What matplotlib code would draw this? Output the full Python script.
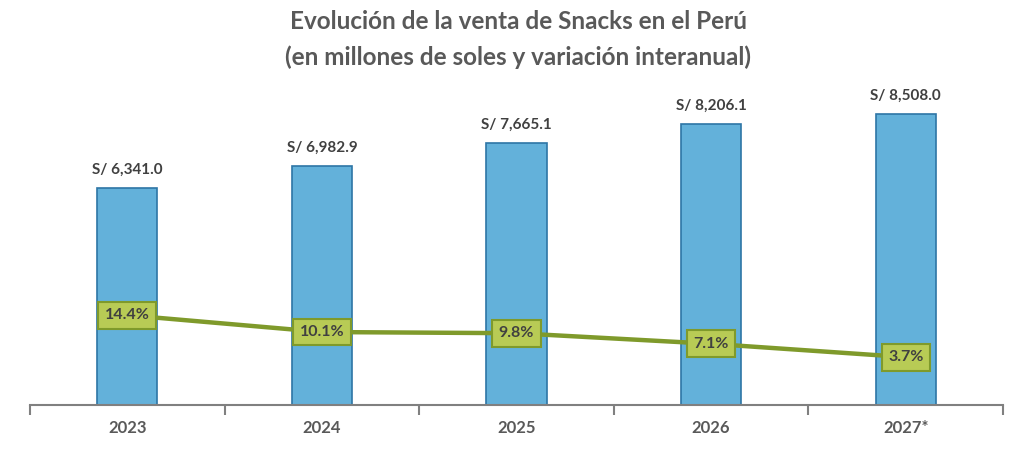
import matplotlib
matplotlib.use("Agg")
import matplotlib.pyplot as plt
import numpy as np

# data
years = ["2023", "2024", "2025", "2026", "2027*"]
sales = [6341.0, 6982.9, 7665.1, 8206.1, 8508.0]
growth = [14.4, 10.1, 9.8, 7.1, 3.7]

BAR_FILL = "#63B1DA"
BAR_EDGE = "#2E75A6"
LINE_COLOR = "#7F9A2B"
BOX_FILL = "#B8CB55"
TEXT_DARK = "#404040"
TEXT_GRAY = "#595959"
AXIS_GRAY = "#808080"

plt.rcParams["font.family"] = ["Lato", "DejaVu Sans"]

fig = plt.figure(figsize=(10.24, 4.5), dpi=100)
ax = fig.add_axes([30 / 1024, 45 / 450, 973 / 1024, 308 / 450])

x = np.arange(len(years))
ax.bar(x, sales, width=0.31, color=BAR_FILL, edgecolor=BAR_EDGE,
       linewidth=1.2, zorder=2)

for xi, v in zip(x, sales):
    ax.annotate(f"S/ {v:,.1f}", (xi, v), xytext=(0, 8), textcoords="offset points",
                ha="center", va="bottom", fontsize=11, fontweight="bold",
                color=TEXT_DARK)

ax.set_xlim(-0.5, len(years) - 0.5)
ax.set_ylim(0, 9000)
ax.set_yticks([])
for s in ["top", "right", "left"]:
    ax.spines[s].set_visible(False)
ax.spines["bottom"].set_color(AXIS_GRAY)
ax.spines["bottom"].set_linewidth(1.5)

# boundary ticks + centered labels
ax.set_xticks(np.arange(-0.5, len(years)), labels=[""] * (len(years) + 1))
ax.tick_params(axis="x", which="major", length=7, width=1.5, color=AXIS_GRAY)
ax.set_xticks(x, labels=years, minor=True)
ax.tick_params(axis="x", which="minor", length=0, pad=11, labelsize=12,
               labelcolor=TEXT_GRAY)
for lab in ax.get_xticklabels(minor=True):
    lab.set_fontweight("bold")

# growth line on secondary axis
ax2 = ax.twinx()
ax2.set_ylim(-8.5, 70)
ax2.axis("off")
ax2.plot(x, growth, color=LINE_COLOR, linewidth=3.2, zorder=3)
for xi, g in zip(x, growth):
    ax2.text(xi, g, f"{g:.1f}%", ha="center", va="center", fontsize=11.5,
             fontweight="bold", color=TEXT_DARK, zorder=4,
             bbox=dict(boxstyle="square,pad=0.4", fc=BOX_FILL, ec=LINE_COLOR, lw=1.5))

fig.text(0.506, 0.952, "Evolución de la venta de Snacks en el Perú",
         ha="center", va="center", fontsize=17.5, fontweight="bold", color=TEXT_GRAY)
fig.text(0.506, 0.872, "(en millones de soles y variación interanual)",
         ha="center", va="center", fontsize=17.5, fontweight="bold", color=TEXT_GRAY)

fig.savefig("out.png", dpi=100, facecolor="white")
